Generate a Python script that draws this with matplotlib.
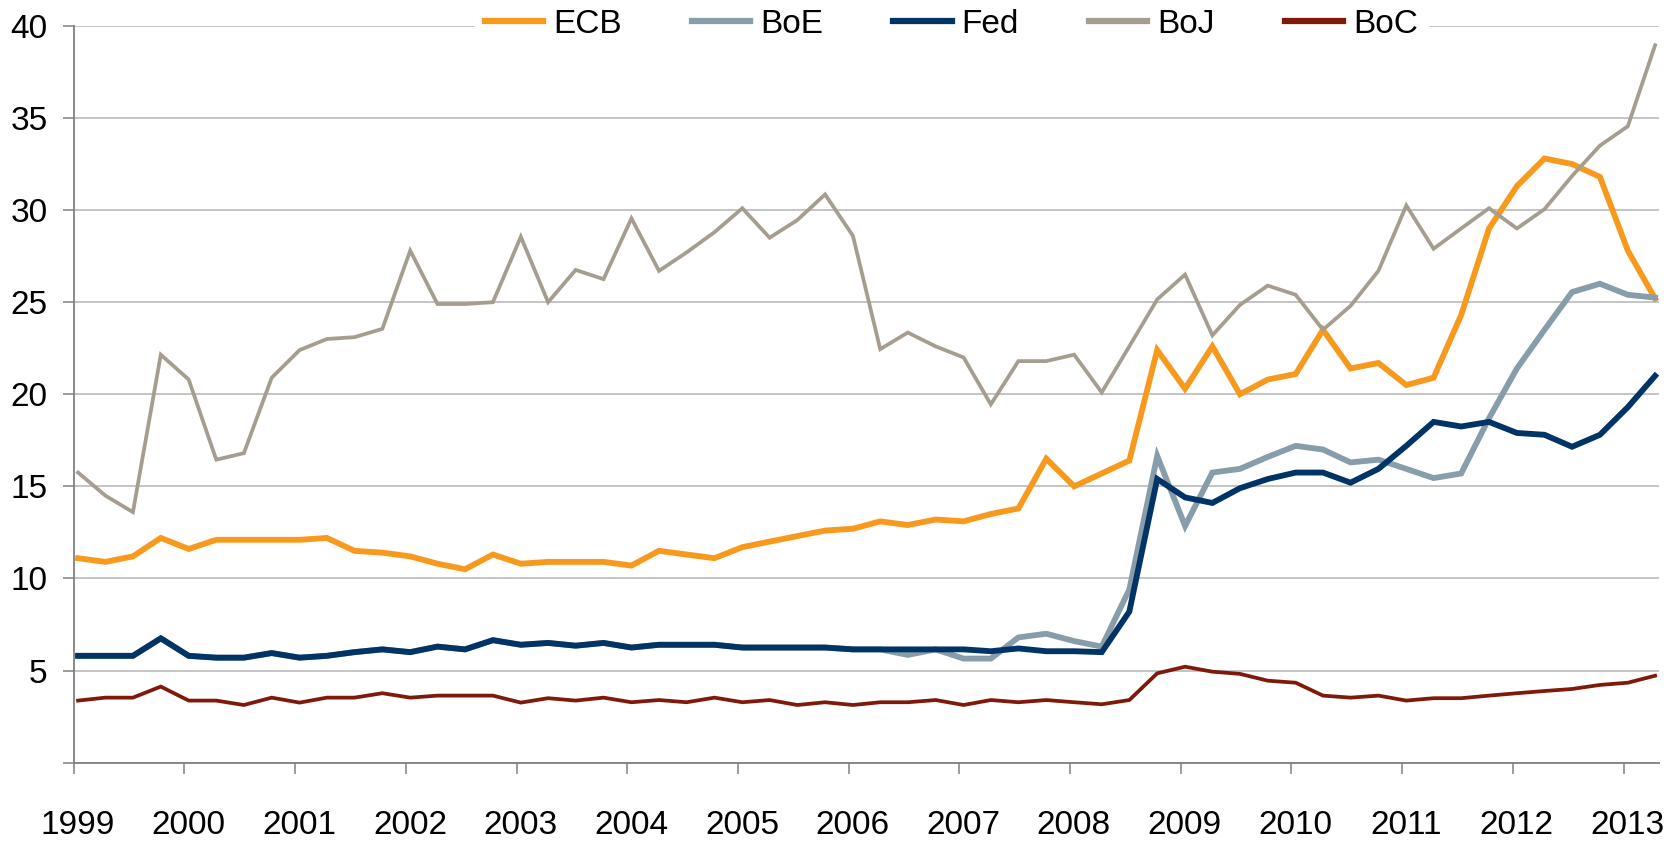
import pandas as pd
import numpy as np
import matplotlib
matplotlib.use('Agg')
import matplotlib.pyplot as plt
import matplotlib.dates as mdates
import matplotlib.transforms as mtransforms

plt.rcParams['font.family'] = ['Liberation Sans Narrow', 'Liberation Sans', 'DejaVu Sans']

# quarterly observations, 1999 Q1 .. 2013 Q2
dates = pd.date_range('1999-01-01', periods=58, freq='QS') + pd.Timedelta(days=14)

ecb = [11.1, 10.9, 11.2, 12.2, 11.6, 12.1, 12.1, 12.1, 12.1, 12.2,
       11.5, 11.4, 11.2, 10.8, 10.5, 11.3, 10.8, 10.9, 10.9, 10.9,
       10.7, 11.5, 11.3, 11.1, 11.7, 12.0, 12.3, 12.6, 12.7, 13.1,
       12.9, 13.2, 13.1, 13.5, 13.8, 16.5, 15.0, 15.7, 16.4, 22.4,
       20.3, 22.6, 20.0, 20.8, 21.1, 23.5, 21.4, 21.7, 20.5, 20.9,
       24.3, 29.0, 31.3, 32.8, 32.5, 31.8, 27.8, 25.2]
boe = [5.8, 5.8, 5.8, 6.75, 5.8, 5.7, 5.7, 5.95, 5.7, 5.8,
       6.0, 6.15, 6.0, 6.3, 6.15, 6.65, 6.4, 6.5, 6.35, 6.5,
       6.25, 6.4, 6.4, 6.4, 6.25, 6.25, 6.25, 6.25, 6.15, 6.15,
       5.85, 6.15, 5.65, 5.65, 6.8, 7.0, 6.6, 6.3, 9.4, 16.65,
       12.85, 15.75, 15.95, 16.6, 17.2, 17.0, 16.3, 16.45, 15.95, 15.45,
       15.7, 18.7, 21.4, 23.5, 25.55, 26.0, 25.4, 25.25]
fed = [5.8, 5.8, 5.8, 6.75, 5.8, 5.7, 5.7, 5.95, 5.7, 5.8,
       6.0, 6.15, 6.0, 6.3, 6.15, 6.65, 6.4, 6.5, 6.35, 6.5,
       6.25, 6.4, 6.4, 6.4, 6.25, 6.25, 6.25, 6.25, 6.15, 6.15,
       6.15, 6.15, 6.15, 6.05, 6.2, 6.05, 6.05, 6.0, 8.2, 15.4,
       14.4, 14.1, 14.9, 15.4, 15.75, 15.75, 15.2, 15.95, 17.2, 18.5,
       18.25, 18.5, 17.9, 17.8, 17.15, 17.8, 19.3, 21.0]
boj = [15.75, 14.5, 13.6, 22.15, 20.8, 16.45, 16.8, 20.9, 22.4, 23.0,
       23.1, 23.55, 27.8, 24.9, 24.9, 25.0, 28.55, 25.0, 26.75, 26.25,
       29.55, 26.7, 27.7, 28.8, 30.1, 28.5, 29.45, 30.85, 28.6, 22.45,
       23.35, 22.6, 22.0, 19.45, 21.8, 21.8, 22.15, 20.1, 22.6, 25.15,
       26.5, 23.2, 24.85, 25.9, 25.4, 23.5, 24.8, 26.7, 30.25, 27.9,
       29.0, 30.1, 29.0, 30.05, 31.85, 33.5, 34.55, 38.95]
boc = [3.37, 3.53, 3.53, 4.13, 3.37, 3.37, 3.13, 3.53, 3.26, 3.53,
       3.53, 3.77, 3.53, 3.64, 3.64, 3.64, 3.26, 3.5, 3.37, 3.53,
       3.28, 3.4, 3.28, 3.53, 3.28, 3.4, 3.13, 3.28, 3.13, 3.28,
       3.28, 3.4, 3.13, 3.4, 3.28, 3.4, 3.28, 3.17, 3.4, 4.85,
       5.21, 4.94, 4.82, 4.45, 4.34, 3.64, 3.53, 3.64, 3.37, 3.5,
       3.5, 3.64, 3.77, 3.89, 4.0, 4.22, 4.34, 4.72]

series = [('ECB', ecb, '#F7991C', 4.2),
          ('BoE', boe, '#889DAA', 4.2),
          ('Fed', fed, '#003366', 4.2),
          ('BoJ', boj, '#A59D90', 2.7),
          ('BoC', boc, '#7F1A0A', 2.7)]

fig = plt.figure(figsize=(16.78, 8.43), dpi=100)
ax = fig.add_axes([0.044, 0.0953, 0.9447, 0.874])

for name, vals, col, lw in series:
    ax.plot(dates, vals, color=col, lw=lw, label=name, solid_joinstyle='miter')

ax.set_ylim(0, 40)
ax.set_yticks(np.arange(0, 41, 5))
ax.set_yticklabels([''] + [str(v) for v in range(5, 41, 5)])
ax.set_xlim(pd.Timestamp('1999-01-01'), pd.Timestamp('2013-04-28'))
ax.xaxis.set_major_locator(mdates.YearLocator(1))
ax.xaxis.set_major_formatter(mdates.DateFormatter('%Y'))

ax.grid(axis='y', color='#BFBFBF', lw=1.3)
ax.set_axisbelow(True)
for s in ['top', 'right']:
    ax.spines[s].set_visible(False)
for s in ['left', 'bottom']:
    ax.spines[s].set_color('#808080')
    ax.spines[s].set_linewidth(1.3)
ax.tick_params(axis='x', length=8, width=1.1, color='#808080', labelsize=24, pad=26)
ax.tick_params(axis='y', length=8, width=1.1, color='#808080', labelsize=24, pad=11)

# year labels sit a little right of their tick marks
shift = mtransforms.ScaledTranslation(4 / 100, 0, fig.dpi_scale_trans)
for lab in ax.get_xticklabels():
    lab.set_transform(lab.get_transform() + shift)

leg = fig.legend(loc='center', bbox_to_anchor=(0.567, 0.971), ncol=5, fontsize=24,
                 frameon=True, facecolor='white', edgecolor='white', framealpha=1,
                 handlelength=1.75, handletextpad=0.3, columnspacing=2.1,
                 borderpad=0.3, borderaxespad=0, fancybox=False)
for h in leg.get_lines():
    h.set_linewidth(4.5)

fig.savefig('out.png', dpi=100)
